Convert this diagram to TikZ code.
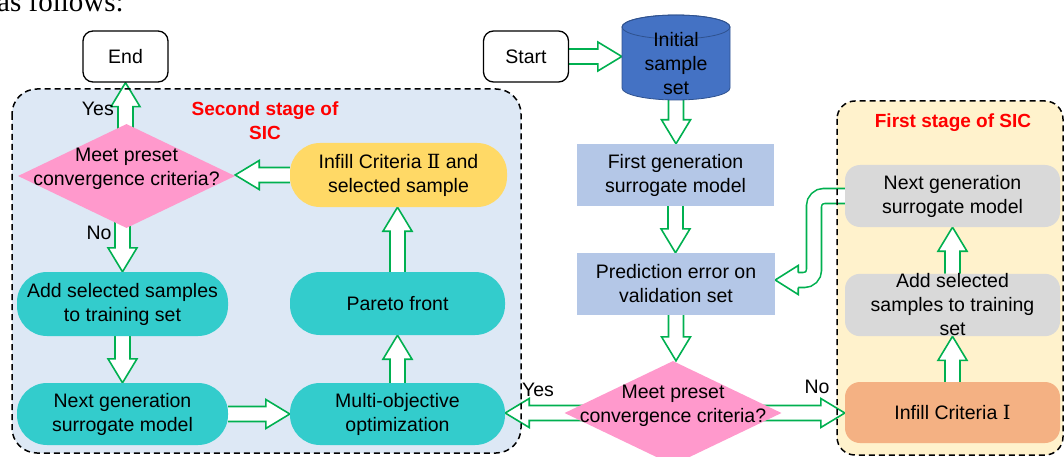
\documentclass[tikz,border=0pt]{standalone}
\usepackage{fontspec}
\setmainfont{Liberation Sans}
\newfontfamily\numeralfont{DejaVu Serif}
\newfontfamily\bodyserif{Liberation Serif}
\usetikzlibrary{shapes.geometric,calc}

\definecolor{flowgreen}{HTML}{00B050}
\definecolor{panelblue}{HTML}{DDE8F5}
\definecolor{panelcream}{HTML}{FFF2CC}
\definecolor{tealbox}{HTML}{33CCCC}
\definecolor{pinkdia}{HTML}{FF99CC}
\definecolor{yellowbox}{HTML}{FFD966}
\definecolor{steelbox}{HTML}{B4C7E7}
\definecolor{greybox}{HTML}{D9D9D9}
\definecolor{orangebox}{HTML}{F4B183}
\definecolor{cylfill}{HTML}{4472C4}
\definecolor{cylline}{HTML}{2F528F}

\pgfdeclarelayer{panel}
\pgfdeclarelayer{arrow}
\pgfdeclarelayer{frame}
\pgfsetlayers{panel,arrow,frame,main}

\tikzset{
  every node/.style={font=\fontsize{19.5}{24}\selectfont, inner sep=0pt, align=center, text=black},
  terminal/.style={draw=black, line width=1.3pt, fill=white, rounded corners=10pt,
    minimum width=85pt, minimum height=51pt},
  stadium/.style={fill=tealbox, rounded corners=30pt, minimum width=211pt, minimum height=62pt},
  plainbox/.style={fill=steelbox, minimum width=197pt, minimum height=62pt},
  softbox/.style={fill=greybox, rounded corners=15pt, minimum width=215pt, minimum height=62pt},
  decision/.style={diamond, fill=pinkdia, minimum width=217pt, minimum height=104pt},
  fatline/.style={draw=flowgreen, line width=1.6pt, fill=white, line join=miter},
  stageframe/.style={draw=black, line width=1.5pt, dash pattern=on 6pt off 4pt},
  stagetitle/.style={font=\bfseries\fontsize{19}{24}\selectfont, text=red},
}

% hollow block arrow from #1 to #2 (shaft 15pt wide, head 29pt wide, 24pt long)
\newcommand\fatarrow[2]{%
  \coordinate (fa-a) at #1;
  \coordinate (fa-b) at #2;
  \coordinate (fa-h) at ($(fa-b)!24pt!(fa-a)$);
  \filldraw[fatline] ($(fa-a)!7.5pt!90:(fa-b)$) -- ($(fa-h)!7.5pt!90:(fa-b)$)
    -- ($(fa-h)!14.5pt!90:(fa-b)$) -- (fa-b) -- ($(fa-h)!14.5pt!-90:(fa-b)$)
    -- ($(fa-h)!7.5pt!-90:(fa-b)$) -- ($(fa-a)!7.5pt!-90:(fa-b)$);
}

\begin{document}
\begin{tikzpicture}[x=1pt,y=-1pt]
\useasboundingbox (0,0) rectangle (1064,457);
\clip (0,0) rectangle (1064,457);

% running text above the chart
\node[font=\bodyserif\fontsize{29}{30}\selectfont, anchor=base west] (lead) at (-3,12) {as follows:};

% ---------- nodes ----------
\node[terminal] (endn) at (125.5,56.5) {End};
\node[terminal] (start) at (526,56.5) {Start};

% initial sample set (cylinder)
\node[minimum width=108pt, minimum height=85pt] (init) at (676,57.5) {};
\fill[cylfill, draw=cylline, line width=0.8pt]
  (622,27) -- (622,88) arc[start angle=180, end angle=0, x radius=54, y radius=12]
  -- (730,27) arc[start angle=0, end angle=-180, x radius=54, y radius=12] -- cycle;
\draw[cylline, line width=0.8pt] (676,27) ellipse[x radius=54, y radius=12];
\node (initlabel) at ($(init.center)+(0,6.5)$) {Initial\\sample\\set};

\node[plainbox] (first) at (675.5,175) {First generation\\surrogate model};
\node[plainbox, minimum width=198pt] (pred) at (676,284) {Prediction error on\\validation set};

\node[decision] (dec2) at (673,413) {};
\node (dec2txt) at (673,405.5) {Meet preset\\convergence criteria?};

\node[decision] (dec1) at (126.5,176) {};
\node (dec1txt) at (126.5,169) {Meet preset\\convergence criteria?};

\node[stadium, fill=yellowbox, minimum width=217pt, minimum height=64pt] (inf2) at (398.5,175)
  {Infill Criteria {\numeralfont Ⅱ} and\\selected sample};
\node[stadium, minimum height=64pt] (add2) at (122.5,304) {Add selected samples\\to training set};
\node[stadium] (next2) at (122.5,414) {Next generation\\surrogate model};
\node[stadium, minimum width=215pt, minimum height=63pt] (pareto) at (397.5,303.5) {Pareto front};
\node[stadium, minimum width=215pt] (multi) at (397.5,414) {Multi-objective\\optimization};

\node[softbox] (next1) at (952.5,196) {Next generation\\surrogate model};
\node[softbox] (add1) at (952.5,305) {Add selected\\samples to training\\set};
\node[softbox, fill=orangebox, minimum height=61pt] (inf1) at (952.5,412.5) {Infill Criteria {\numeralfont Ⅰ}};

% ---------- labels ----------
\node[anchor=east] (yes1) at (114,109) {Yes};
\node (no1) at (99,233) {No};
\node (yes2) at (538,390) {Yes};
\node (no2) at (817,387) {No};
\node[stagetitle] (title2) at (265,121) {Second stage of\\SIC};
\node[stagetitle] (title1) at (953,123) {First stage of SIC};

% ---------- stage panels ----------
\begin{pgfonlayer}{panel}
  \fill[panelblue, rounded corners=25pt] (12,89) rectangle (521,453);
  \fill[panelcream, rounded corners=18pt] (837,101) rectangle (1063,455);
\end{pgfonlayer}
\begin{pgfonlayer}{frame}
  \draw[stageframe, rounded corners=25pt] (12,89) rectangle (521,453);
  \draw[stageframe, rounded corners=18pt] (837,101) rectangle (1063,455);
\end{pgfonlayer}

% ---------- connectors ----------
\begin{pgfonlayer}{arrow}
  \fatarrow{(start.east)}{(start.east -| init.west)}
  \fatarrow{(init.south)}{(init.south |- first.north)}
  \fatarrow{(first.south)}{(first.south |- pred.north)}
  \fatarrow{(pred.south)}{(pred.south |- dec2.north)}
  \fatarrow{(dec2.center)}{(dec2.center -| multi.east)}
  \fatarrow{(dec2.center)}{(dec2.center -| inf1.west)}
  \fatarrow{(inf1.north)}{(inf1.north |- add1.south)}
  \fatarrow{(add1.north)}{(add1.north |- next1.south)}
  \fatarrow{(next2.east)}{(next2.east -| multi.west)}
  \fatarrow{(multi.north)}{(multi.north |- pareto.south)}
  \fatarrow{(pareto.north)}{(pareto.north |- inf2.south)}
  \fatarrow{(inf2.west)}{(inf2.west -| dec1.east)}
  \fatarrow{($(endn.south |- dec1.north)+(0,10)$)}{(endn.south)}
  \fatarrow{($(add2.north |- dec1.south)+(0,-10)$)}{(add2.north)}
  \fatarrow{(add2.south)}{(add2.south |- next2.north)}
  % feedback from the first-stage surrogate back to the validation check
  \coordinate (fbtip) at ($(pred.east)+(0,-4)$);
  \coordinate (fbbase) at ($(fbtip)+(23,0)$);
  \coordinate (fbbend) at (814,0);
  \draw[flowgreen, line width=1.6pt, double=white, double distance=13.4pt, rounded corners=10pt]
    (next1.west) -- (next1.west -| fbbend) -- (fbbend |- fbtip) -- (fbbase);
  \filldraw[fatline] ($(fbbase)+(0,-7.5)$) -- ($(fbbase)+(0,-14.5)$) -- (fbtip)
    -- ($(fbbase)+(0,14.5)$) -- ($(fbbase)+(0,7.5)$);
\end{pgfonlayer}
\end{tikzpicture}
\end{document}
